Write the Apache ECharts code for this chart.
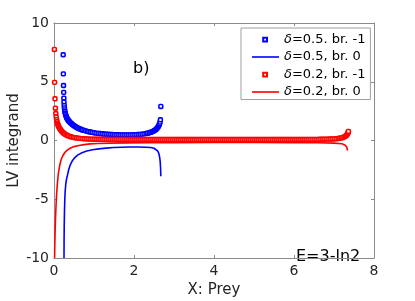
<!DOCTYPE html>
<html>
<head>
<meta charset="utf-8">
<script src="https://cdn.jsdelivr.net/npm/echarts@6/dist/echarts.min.js"></script>
<style>html,body{margin:0;padding:0;background:#fff;}#c{width:415px;height:301px;}</style>
</head>
<body>
<div id="c"></div>
<script>
// ---- data ----
const seriesNames = ['δ=0.5. br. -1', 'δ=0.5, br. 0', 'δ=0.2, br. -1', 'δ=0.2, br. 0'];
const xTicks = [0, 2, 4, 6, 8];
const yTicks = [-10, -5, 0, 5, 10];

// δ=0.5, branch -1 (blue markers)
const blueMarkX = [0.23,0.234,0.238,0.242,0.246,0.25,0.255,0.26,0.266,0.273,0.28,0.29,0.3,0.31,0.32,0.335,0.35,0.365,0.38,0.4,
  0.42,0.44,0.46,0.48,0.5,0.53,0.56,0.59,0.62,0.65,0.68,0.71,0.75,0.79,0.83,0.87,0.91,0.95,1.0,1.05,
  1.1,1.15,1.2,1.25,1.3,1.35,1.4,1.45,1.5,1.55,1.6,1.65,1.7,1.75,1.8,1.85,1.9,1.95,2.0,2.05,
  2.1,2.15,2.2,2.25,2.3,2.34,2.38,2.42,2.45,2.48,2.51,2.54,2.56,2.58,2.6,2.615,2.63,2.64,2.65,2.66,2.67];
const blueMarkY = [7.3,5.67,4.68,4.1,3.6,3.26,2.98,2.78,2.6,2.45,2.32,2.2,2.1,2.0,1.92,1.83,1.75,1.68,1.62,1.55,
  1.48,1.42,1.36,1.31,1.26,1.19,1.13,1.07,1.02,0.98,0.94,0.9,0.86,0.82,0.78,0.75,0.72,0.69,0.66,0.63,
  0.61,0.59,0.57,0.55,0.54,0.53,0.52,0.51,0.5,0.49,0.49,0.48,0.48,0.48,0.48,0.48,0.48,0.48,0.49,0.5,
  0.51,0.52,0.54,0.56,0.59,0.62,0.66,0.7,0.74,0.79,0.85,0.92,0.98,1.06,1.15,1.24,1.34,1.44,1.56,1.76,2.9];

// δ=0.5, branch 0 (blue line)
const blueLineX = [0.25,0.252,0.256,0.262,0.27,0.28,0.295,0.315,0.34,0.37,0.41,0.46,0.52,0.6,0.7,0.82,0.96,1.12,1.3,1.5,1.7,1.9,2.1,2.3,2.42,2.5,2.55,2.59,2.62,2.64,2.655,2.665,2.67];
const blueLineY = [-10,-8.6,-7.2,-6.0,-5.0,-4.3,-3.7,-3.25,-2.9,-2.45,-2.05,-1.72,-1.45,-1.22,-1.04,-0.9,-0.79,-0.71,-0.65,-0.6,-0.57,-0.55,-0.55,-0.57,-0.6,-0.66,-0.74,-0.88,-1.1,-1.4,-1.8,-2.4,-3.05];

// δ=0.2, branch -1 (red markers)
const redMarkX = [0.01,0.015,0.025,0.035,0.045,0.055,0.065,0.075,0.085,0.095,0.105,0.115,0.13,0.145,0.16,0.175,0.19,0.21,0.23,0.25,
  0.27,0.3,0.33,0.36,0.4,0.44,0.48,0.52,0.56,0.6,0.65,0.7,0.75,0.8,0.85,0.9,0.95,1.0,
  1.05,1.1,1.15,1.2,1.25,1.3,1.35,1.4,1.45,1.5,
  1.55,1.6,1.65,1.7,1.75,1.8,1.85,1.9,1.95,2.0,
  2.05,2.1,2.15,2.2,2.25,2.3,2.35,2.4,2.45,2.5,
  2.55,2.6,2.65,2.7,2.75,2.8,2.85,2.9,2.95,3.0,
  3.05,3.1,3.15,3.2,3.25,3.3,3.35,3.4,3.45,3.5,
  3.55,3.6,3.65,3.7,3.75,3.8,3.85,3.9,3.95,4.0,
  4.05,4.1,4.15,4.2,4.25,4.3,4.35,4.4,4.45,4.5,
  4.55,4.6,4.65,4.7,4.75,4.8,4.85,4.9,4.95,5.0,
  5.05,5.1,5.15,5.2,5.25,5.3,5.35,5.4,5.45,5.5,
  5.55,5.6,5.65,5.7,5.75,5.8,5.85,5.9,5.95,6.0,
  6.05,6.1,6.15,6.2,6.25,6.3,6.35,6.4,6.45,6.5,
  6.55,6.6,6.65,6.7,6.75,6.8,6.85,6.9,6.95,7.0,
  7.05,7.1,7.14,7.18,7.22,7.25,7.28,7.3,7.32,7.34,7.35,7.36];
const redMarkY = [7.75,4.95,3.55,2.75,2.3,2.0,1.78,1.6,1.47,1.37,1.28,1.2,1.1,1.01,0.93,0.86,0.8,0.72,0.66,0.6,
  0.55,0.49,0.43,0.39,0.34,0.3,0.27,0.24,0.22,0.2,0.18,0.16,0.15,0.14,0.13,0.12,0.115,0.11,
  0.108,0.105,0.103,0.1,0.098,0.097,0.095,0.094,0.093,0.092,
  0.091,0.09,0.09,0.089,0.088,0.088,0.087,0.087,0.086,0.086,
  0.085,0.085,0.085,0.084,0.084,0.084,0.083,0.083,0.083,0.082,
  0.082,0.082,0.082,0.081,0.081,0.081,0.081,0.08,0.08,0.08,
  0.08,0.08,0.08,0.08,0.08,0.08,0.08,0.08,0.08,0.08,
  0.08,0.08,0.08,0.08,0.08,0.08,0.08,0.08,0.08,0.08,
  0.08,0.08,0.08,0.08,0.08,0.08,0.08,0.08,0.08,0.08,
  0.08,0.08,0.08,0.08,0.08,0.08,0.08,0.08,0.08,0.08,
  0.08,0.08,0.08,0.08,0.08,0.08,0.08,0.08,0.08,0.08,
  0.08,0.08,0.08,0.08,0.08,0.081,0.081,0.081,0.082,0.082,
  0.083,0.083,0.084,0.085,0.086,0.087,0.088,0.09,0.092,0.094,
  0.096,0.099,0.102,0.105,0.109,0.113,0.118,0.124,0.13,0.14,
  0.15,0.17,0.19,0.22,0.26,0.3,0.35,0.4,0.47,0.58,0.66,0.77];

// δ=0.2, branch 0 (red line)
const redLineX = [0.015,0.02,0.028,0.038,0.05,0.062,0.075,0.09,0.105,0.125,0.15,0.18,0.22,0.27,0.33,0.4,0.5,0.62,0.75,0.9,1.1,1.4,1.8,2.4,3.0,4.0,5.0,6.0,6.6,7.0,7.2,7.28,7.32,7.34];
const redLineY = [-10,-8.9,-7.7,-6.6,-5.6,-4.8,-4.1,-3.45,-2.95,-2.45,-2.0,-1.62,-1.3,-1.02,-0.82,-0.66,-0.52,-0.42,-0.35,-0.29,-0.25,-0.22,-0.2,-0.19,-0.18,-0.17,-0.17,-0.18,-0.19,-0.22,-0.28,-0.4,-0.58,-0.85];

const xName = 'X: Prey';
const yName = 'LV integrand';
const panelLabel = 'b)';
const energyLabel = 'E=3-ln2';

// ---- chart ----
const pairs = (xs, ys) => xs.map((x, i) => [x, ys[i]]);
const FONT = 'DejaVu Sans';
const axisGrey = '#8a8a8a';
const txt = '#262626';

const chart = echarts.init(document.getElementById('c'), null, {renderer: 'canvas'});

const baseX = {
  type: 'value', min: 0, max: 8, interval: 2,
  axisLine: {show: true, onZero: false, lineStyle: {color: axisGrey, width: 1}},
  axisTick: {show: true, inside: true, length: 3, lineStyle: {color: axisGrey}},
  splitLine: {show: false}
};
const baseY = {
  type: 'value', min: -10, max: 10, interval: 5,
  axisLine: {show: true, onZero: false, lineStyle: {color: axisGrey, width: 1}},
  axisTick: {show: true, inside: true, length: 3, lineStyle: {color: axisGrey}},
  splitLine: {show: false}
};

const scatterStyle = (c) => ({
  type: 'scatter', symbol: 'roundRect', symbolSize: 3.8,
  itemStyle: {color: '#fff', borderColor: c, borderWidth: 1.6, opacity: 1},
  emphasis: {disabled: true}, silent: true, animation: false
});
const lineStyle = (c) => ({
  type: 'line', symbol: 'none', showSymbol: false,
  lineStyle: {color: c, width: 1.6}, itemStyle: {color: c},
  emphasis: {disabled: true}, silent: true, animation: false
});

const markerIcon = 'path://M0,0M27,6M11.2,1.2h3.8v3.8h-3.8z';
const lineIcon = 'path://M0,0M27,6M0,2.2h27v1.6h-27z';

chart.setOption({
  animation: false,
  backgroundColor: '#fff',
  grid: {left: 54, right: 41, top: 23, bottom: 43, containLabel: false, outerBoundsMode: 'none'},
  xAxis: [
    Object.assign({}, baseX, {
      position: 'bottom',
      axisLabel: {show: true, margin: 6, fontSize: 14, fontFamily: FONT, color: txt,
        formatter: v => xTicks.includes(v) ? String(v) : ''},
      name: xName, nameLocation: 'middle', nameGap: 25, nameMoveOverlap: false,
      nameTextStyle: {fontSize: 15, fontFamily: FONT, color: txt}
    }),
    Object.assign({}, baseX, {position: 'top', axisLabel: {show: false}})
  ],
  yAxis: [
    Object.assign({}, baseY, {
      position: 'left',
      axisLabel: {show: true, margin: 5, fontSize: 14, fontFamily: FONT, color: txt,
        formatter: v => yTicks.includes(v) ? String(v) : ''},
      name: yName, nameLocation: 'middle', nameGap: 32, nameRotate: 90, nameMoveOverlap: false,
      nameTextStyle: {fontSize: 15, fontFamily: FONT, color: txt}
    }),
    Object.assign({}, baseY, {position: 'right', axisLabel: {show: false}})
  ],
  legend: {
    orient: 'vertical', left: 241, top: 28,
    itemWidth: 27, itemHeight: 6, itemGap: 2.5,
    borderColor: '#a0a0a0', borderWidth: 1, borderRadius: 0,
    backgroundColor: '#fff', padding: [4, 5, 0, 10],
    selectedMode: false,
    textStyle: {fontSize: 13, lineHeight: 15, fontFamily: FONT, color: '#000',
      rich: {i: {fontSize: 13, lineHeight: 15, fontStyle: 'italic', fontFamily: FONT, color: '#000'}}},
    formatter: n => '{i|' + n.charAt(0) + '}' + n.slice(1),
    data: [
      {name: seriesNames[0], icon: markerIcon},
      {name: seriesNames[1], icon: lineIcon},
      {name: seriesNames[2], icon: markerIcon},
      {name: seriesNames[3], icon: lineIcon}
    ]
  },
  graphic: [
    {type: 'text', left: 133, top: 61, style: {text: panelLabel, fontSize: 16, fontFamily: FONT, fill: '#000'}},
    {type: 'text', left: 296, top: 249, style: {text: energyLabel, fontSize: 16, fontFamily: FONT, fill: '#000'}}
  ],
  series: [
    Object.assign(scatterStyle('#0000ff'), {name: seriesNames[0], data: pairs(blueMarkX, blueMarkY), z: 2}),
    Object.assign(lineStyle('#0000ff'), {name: seriesNames[1], data: pairs(blueLineX, blueLineY), z: 3}),
    Object.assign(scatterStyle('#ff0000'), {name: seriesNames[2], data: pairs(redMarkX, redMarkY), z: 4}),
    Object.assign(lineStyle('#ff0000'), {name: seriesNames[3], data: pairs(redLineX, redLineY), z: 5})
  ]
});
</script>
</body>
</html>
